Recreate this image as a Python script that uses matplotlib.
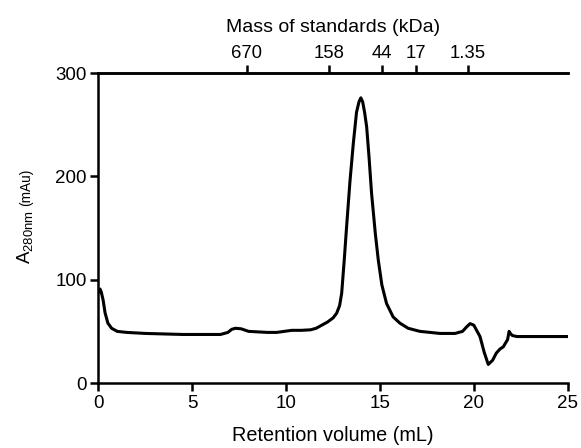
import matplotlib
matplotlib.use("Agg")
import matplotlib.pyplot as plt

plt.rcParams['font.family'] = ['Liberation Sans', 'DejaVu Sans']

# Chromatogram trace (retention volume mL, absorbance mAu)
volume = [0.0, 0.08, 0.15, 0.25, 0.35, 0.5, 0.7, 1.0, 1.5, 2.5, 3.5, 4.5, 5.5, 6.5, 6.9,
          7.1, 7.3, 7.6, 8.0, 8.5, 9.0, 9.5, 9.9, 10.3, 10.8, 11.3, 11.6, 11.9, 12.2,
          12.5, 12.69, 12.85, 12.96, 13.1, 13.22, 13.4, 13.58, 13.75, 13.88, 13.98,
          14.08, 14.18, 14.29, 14.42, 14.55, 14.75, 14.91, 15.1, 15.35, 15.7, 16.06,
          16.5, 17.13, 18.2, 19.0, 19.4, 19.6, 19.8, 20.0, 20.33, 20.55, 20.77, 21.0,
          21.2, 21.4, 21.57, 21.7, 21.8, 21.88, 21.95, 22.05, 22.3, 23.0, 24.0, 25.0]
absorbance = [88, 91, 88, 80, 68, 58, 53, 50, 49, 48, 47.5, 47, 47, 47, 49,
              52, 53, 52.5, 50, 49.5, 49, 49, 50, 51, 51, 51.5, 53, 56, 59,
              63, 67.5, 75, 87, 120, 151, 195, 232, 262, 272, 276,
              272, 262, 248, 218, 184, 145, 119, 95, 77, 64, 58,
              53, 50, 48, 48, 50, 54, 57.5, 56, 45, 30, 18, 22,
              29, 33, 35, 39, 42, 50, 48, 46, 45, 45, 45, 45]

# Secondary (top) axis: molecular mass standards
std_positions = [7.90, 12.30, 15.09, 16.92, 19.67]
std_labels = ['670', '158', '44', '17', '1.35']

xticks = [0, 5, 10, 15, 20, 25]
yticks = [0, 100, 200, 300]

fig = plt.figure(figsize=(5.81, 4.48), dpi=100)
ax = fig.add_axes([0.1695, 0.145, 0.8075, 0.692])

ax.plot(volume, absorbance, color='black', lw=2.2, solid_joinstyle='round')
ax.set_xlim(0, 25)
ax.set_ylim(0, 300)
ax.set_xticks(xticks)
ax.set_yticks(yticks)
ax.tick_params(axis='both', direction='out', width=1.8, length=6,
               labelsize=13.5, pad=2.5, color='black')
ax.spines['right'].set_visible(False)
for s in ['left', 'bottom', 'top']:
    ax.spines[s].set_linewidth(1.8)
ax.spines['top'].set_visible(True)

ax.set_xlabel('Retention volume (mL)', fontsize=14.3, labelpad=10)

top = ax.secondary_xaxis('top')
top.set_xticks(std_positions)
top.set_xticklabels(std_labels)
top.tick_params(direction='out', width=1.8, length=6, labelsize=13.3, pad=2)
top.spines['top'].set_linewidth(1.8)
top.set_xlabel('Mass of standards (kDa)', fontsize=14, labelpad=9)

# y-axis label with subscript and smaller unit
fig.text(31/581, 1 - 264/448, r'A$_{\mathregular{280nm}}$', rotation=90,
         rotation_mode='anchor', ha='left', va='baseline', fontsize=13.5)
fig.text(30/581, 1 - 206/448, '(mAu)', rotation=90,
         rotation_mode='anchor', ha='left', va='baseline', fontsize=9.8)

fig.savefig('out.png', dpi=100)
